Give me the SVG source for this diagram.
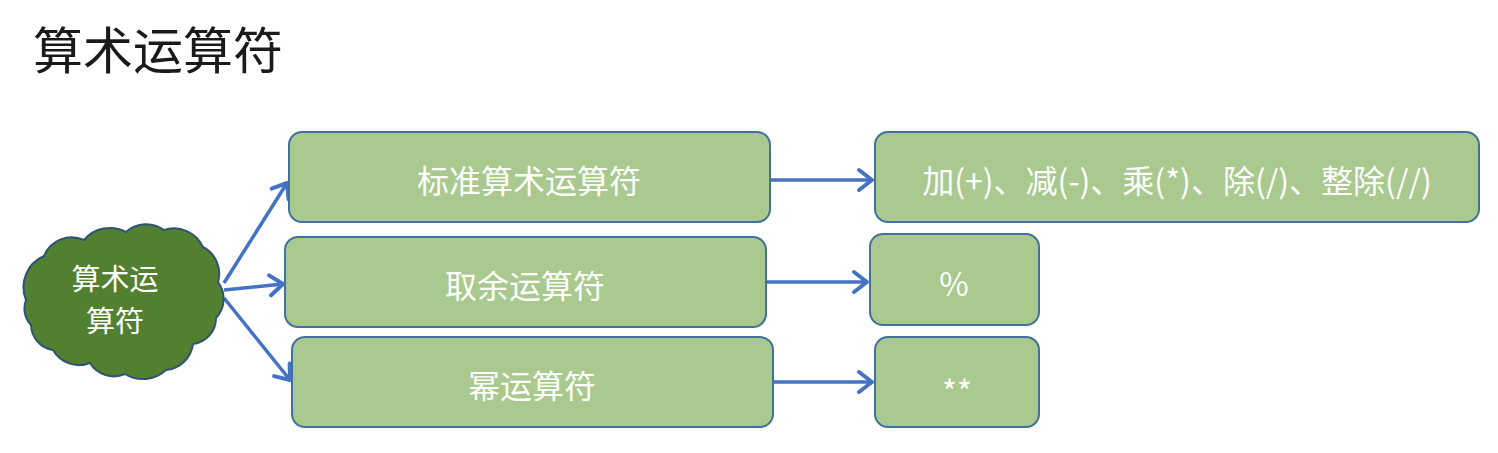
<svg xmlns="http://www.w3.org/2000/svg" width="1498" height="453" viewBox="0 0 1498 453">
<style>
.box{fill:#a9c98e;stroke:#41719c;stroke-width:2}
.t{fill:#ffffff;font-family:"Microsoft YaHei","Noto Sans CJK SC","Liberation Sans",sans-serif;font-size:32px;text-anchor:middle;dominant-baseline:central}
.ct{fill:#ffffff;font-family:"Noto Sans CJK SC","Liberation Sans",sans-serif;font-size:29px;text-anchor:middle;dominant-baseline:central}
.title{fill:#1a1a1a;font-family:"Noto Sans CJK SC","Liberation Sans",sans-serif;font-size:50px}
.c{fill:none;stroke:#4472c4;stroke-width:3.5}
</style>
<defs>
<marker id="ah" markerUnits="userSpaceOnUse" markerWidth="26" markerHeight="26" viewBox="0 0 26 26" refX="21" refY="13" orient="auto">
<path d="M8,3 L21,13 L8,23" fill="none" stroke="#4472c4" stroke-width="4" stroke-linecap="round" stroke-linejoin="round"/>
</marker>
</defs>
<rect width="1498" height="453" fill="#ffffff"/>
<text class="title" x="33" y="69">算术运算符</text>
<g id="connectors">
<path class="c" d="M224,283 L287,183" marker-end="url(#ah)"/>
<path class="c" d="M224,290 L283,284" marker-end="url(#ah)"/>
<path class="c" d="M224,298 L290,380" marker-end="url(#ah)"/>
<path class="c" d="M770,180 L872,180" marker-end="url(#ah)"/>
<path class="c" d="M766,282 L867,282" marker-end="url(#ah)"/>
<path class="c" d="M773,382 L872,382" marker-end="url(#ah)"/>
</g>
<g id="cloud">
<path d="M26,300 A34,34 0 0 1 44,256 A30,30 0 0 1 84,240 A34,34 0 0 1 126,232 A30,30 0 0 1 164,230 A32,32 0 0 1 203,247 A30,30 0 0 1 218,282 A28,28 0 0 1 216,318 A26,26 0 0 1 193,344 A30,30 0 0 1 166,370 A34,34 0 0 1 125,374 A28,28 0 0 1 90,363 A30,30 0 0 1 53,350 A26,26 0 0 1 31,325 A24,24 0 0 1 26,300 Z" fill="#527f30" stroke="#2f5374" stroke-width="2"/>
<text class="ct" x="115" y="277">算术运</text>
<text class="ct" x="115" y="319">算符</text>
</g>
<g id="n1">
<rect class="box" x="289" y="132" width="481" height="90" rx="13"/>
<text class="t" x="529" y="179">标准算术运算符</text>
</g>
<g id="n2">
<rect class="box" x="285" y="237" width="481" height="90" rx="13"/>
<text class="t" x="525" y="284">取余运算符</text>
</g>
<g id="n3">
<rect class="box" x="292" y="337" width="481" height="90" rx="13"/>
<text class="t" x="532" y="384">幂运算符</text>
</g>
<g id="n4">
<rect class="box" x="875" y="132" width="604" height="90" rx="13"/>
<text class="t" x="1177" y="179">加(+)、减(-)、乘(*)、除(/)、整除(//)</text>
</g>
<g id="n5">
<rect class="box" x="870" y="234" width="169" height="91" rx="13"/>
<text class="t" x="954" y="282">%</text>
</g>
<g id="n6">
<rect class="box" x="875" y="337" width="164" height="90" rx="13"/>
<text class="t" x="957" y="390">**</text>
</g>
</svg>
